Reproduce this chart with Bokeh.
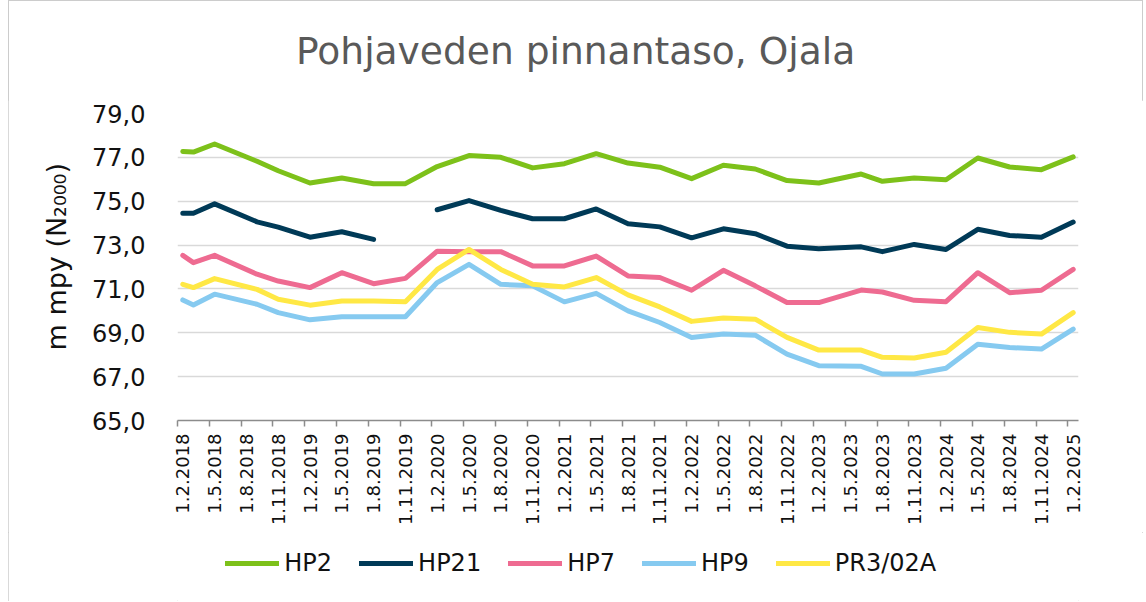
import math
from bokeh.plotting import figure
from bokeh.layouts import column
from bokeh.models import (ColumnDataSource, Div, FixedTicker, Legend,
                          LegendItem, Range1d, Title)
from bokeh.embed import file_html
from bokeh.resources import INLINE

# ---------------- data ----------------
months = ["2018-02", "2018-03", "2018-05", "2018-09", "2018-11",
          "2019-02", "2019-05", "2019-08", "2019-11",
          "2020-02", "2020-05", "2020-08", "2020-11",
          "2021-02", "2021-05", "2021-08", "2021-11",
          "2022-02", "2022-05", "2022-08", "2022-11",
          "2023-02", "2023-06", "2023-08", "2023-11",
          "2024-02", "2024-05", "2024-08", "2024-11",
          "2025-02"]

nan = float("nan")

HP2 = [77.27, 77.24, 77.61, 76.82, 76.39, 75.83, 76.06, 75.80, 75.80,
       76.58, 77.08, 77.00, 76.52, 76.71, 77.17, 76.74, 76.55, 76.03,
       76.64, 76.47, 75.94, 75.83, 76.24, 75.91, 76.06, 75.98, 76.97,
       76.56, 76.44, 77.02]

HP21 = [74.45, 74.45, 74.88, 74.06, 73.82, 73.36, 73.61, 73.26, nan,
        74.61, 75.03, 74.58, 74.20, 74.20, 74.65, 73.97, 73.83, 73.33,
        73.74, 73.52, 72.95, 72.83, 72.92, 72.70, 73.03, 72.80, 73.72,
        73.44, 73.36, 74.05]

HP7 = [72.53, 72.20, 72.53, 71.67, 71.36, 71.06, 71.74, 71.24, 71.48,
       72.72, 72.70, 72.70, 72.05, 72.05, 72.50, 71.59, 71.52, 70.94,
       71.85, 71.14, 70.38, 70.38, 70.95, 70.86, 70.48, 70.42, 71.74,
       70.83, 70.94, 71.89]

HP9 = [70.50, 70.27, 70.76, 70.30, 69.92, 69.59, 69.73, 69.73, 69.73,
       71.29, 72.12, 71.21, 71.14, 70.41, 70.80, 70.00, 69.47, 68.79,
       68.94, 68.89, 68.03, 67.50, 67.47, 67.12, 67.12, 67.38, 68.48,
       68.33, 68.26, 69.17]

PR3_02A = [71.21, 71.06, 71.47, 70.98, 70.53, 70.26, 70.45, 70.45, 70.42,
           71.89, 72.80, 71.89, 71.21, 71.09, 71.52, 70.73, 70.18, 69.52,
           69.67, 69.62, 68.79, 68.21, 68.21, 67.88, 67.85, 68.11, 69.24,
           69.02, 68.94, 69.92]

series_names = ["HP2", "HP21", "HP7", "HP9", "PR3/02A"]
series_values = [HP2, HP21, HP7, HP9, PR3_02A]
series_colors = ["#7dc11a", "#003a57", "#ee6b91", "#86caf0", "#ffe845"]

x_tick_labels = ["1.2.2018", "1.5.2018", "1.8.2018", "1.11.2018",
                 "1.2.2019", "1.5.2019", "1.8.2019", "1.11.2019",
                 "1.2.2020", "1.5.2020", "1.8.2020", "1.11.2020",
                 "1.2.2021", "1.5.2021", "1.8.2021", "1.11.2021",
                 "1.2.2022", "1.5.2022", "1.8.2022", "1.11.2022",
                 "1.2.2023", "1.5.2023", "1.8.2023", "1.11.2023",
                 "1.2.2024", "1.5.2024", "1.8.2024", "1.11.2024",
                 "1.2.2025"]

y_ticks = [65, 67, 69, 71, 73, 75, 77, 79]
y_tick_labels = ["65,0", "67,0", "69,0", "71,0", "73,0", "75,0", "77,0", "79,0"]

title_text = "Pohjaveden pinnantaso, Ojala"
y_title = "m mpy (N\u2082\u2080\u2080\u2080)"

# --------------- month-slot axis (Excel date axis, base unit = month) ---------------
BASE_YEAR, BASE_MONTH = 2018, 2


def month_slot(year, month):
    return (year - BASE_YEAR) * 12 + (month - BASE_MONTH)


x_vals = []
for m in months:
    yy, mm = m.split("-")
    x_vals.append(month_slot(int(yy), int(mm)) + 0.5)

tick_pos = []
for lab in x_tick_labels:
    d, mm, yy = lab.split(".")
    tick_pos.append(float(month_slot(int(yy), int(mm))))
label_pos = [t + 0.5 for t in tick_pos]

data = {"x": x_vals}
for name, vals in zip(series_names, series_values):
    data[name] = vals
source = ColumnDataSource(data)

FONT = "DejaVu Sans"
W = 1135
H_TITLE = 100
H_MAIN = 432
H_LEG = 69

# ---------------- title strip ----------------
title_div = Div(
    text=('<div style="margin:0; padding:29px 0 0 288px; white-space:nowrap; '
          "font-family:'DejaVu Sans'; font-size:37.6px; line-height:normal; "
          'color:#595959;">' + title_text + '</div>'),
    width=W, height=H_TITLE, margin=0)

# ---------------- main plot ----------------
p = figure(width=W, height=H_MAIN, title=None,
           x_range=Range1d(0, tick_pos[-1] + 1),
           y_range=Range1d(65, 79),
           output_backend="svg", toolbar_location=None,
           min_border_left=169, min_border_right=65,
           min_border_top=113 - H_TITLE,
           min_border_bottom=H_TITLE + H_MAIN - 420)
p.outline_line_color = None
p.background_fill_color = "white"
p.border_fill_color = "white"

# x axis
p.xaxis.ticker = FixedTicker(ticks=label_pos, minor_ticks=tick_pos)
p.xaxis.major_label_overrides = dict(zip(label_pos, x_tick_labels))
p.xaxis.major_tick_line_color = None
p.xaxis.major_tick_out = 6
p.xaxis.major_tick_in = 0
p.xaxis.minor_tick_line_color = "#8c8c8c"
p.xaxis.minor_tick_line_width = 1.5
p.xaxis.minor_tick_out = 6
p.xaxis.minor_tick_in = 0
p.xaxis.axis_line_color = "#8c8c8c"
p.xaxis.axis_line_width = 1.5
p.xaxis.major_label_orientation = math.pi / 2
p.xaxis.major_label_standoff = 7
p.xaxis.major_label_text_font = FONT
p.xaxis.major_label_text_font_size = "18px"
p.xaxis.major_label_text_color = "#111111"

# y axis
p.yaxis.ticker = FixedTicker(ticks=y_ticks)
p.yaxis.major_label_overrides = dict(zip(y_ticks, y_tick_labels))
p.yaxis.axis_line_color = None
p.yaxis.major_tick_line_color = None
p.yaxis.minor_tick_line_color = None
p.yaxis.major_tick_out = 0
p.yaxis.major_tick_in = 0
p.yaxis.major_label_standoff = 32
p.yaxis.major_label_text_font = FONT
p.yaxis.major_label_text_font_size = "24px"
p.yaxis.major_label_text_color = "#111111"

p.xgrid.grid_line_color = None
p.ygrid.ticker = FixedTicker(ticks=y_ticks)
p.ygrid.grid_line_color = "#d9d9d9"
p.ygrid.grid_line_width = 1.5

for name, color in zip(series_names, series_colors):
    p.line("x", name, source=source, line_width=5, line_color=color,
           line_cap="round", line_join="round")

ytitle = Title(text=y_title, align="left", offset=70,
               text_font=FONT, text_font_size="27px",
               text_font_style="normal", text_color="#111111", standoff=35)
p.add_layout(ytitle, "left")

# ---------------- legend strip (same series, same source) ----------------
pl = figure(width=W, height=H_LEG, title=None,
            x_range=Range1d(-3, -2), y_range=Range1d(0, 1),
            output_backend="svg", toolbar_location=None,
            x_axis_location=None, y_axis_location=None,
            min_border_left=0, min_border_right=0,
            min_border_top=0, min_border_bottom=0)
pl.outline_line_color = None
pl.grid.visible = False
pl.background_fill_color = "white"
pl.border_fill_color = "white"

leg_renderers = []
for name, color in zip(series_names, series_colors):
    r = pl.line("x", name, source=source, line_width=5, line_color=color,
                line_cap="round", line_join="round")
    leg_renderers.append(r)

legend = Legend(items=[LegendItem(label=n, renderers=[r])
                       for n, r in zip(series_names, leg_renderers)],
                orientation="horizontal", location=(48.3, 24),
                glyph_width=54, glyph_height=20, label_standoff=5,
                spacing=27, padding=0, margin=0,
                border_line_color=None, background_fill_alpha=0,
                label_text_font=FONT, label_text_font_size="24px",
                label_text_color="#111111", label_height=20)
pl.add_layout(legend, "center")

layout = column(title_div, p, pl, margin=(0, 3, 1, 8),
                styles={"outline": "1.5px solid #cccccc",
                        "outline-offset": "-1.5px",
                        "background-color": "white"})

open("out.html", "w").write(file_html(layout, INLINE))
